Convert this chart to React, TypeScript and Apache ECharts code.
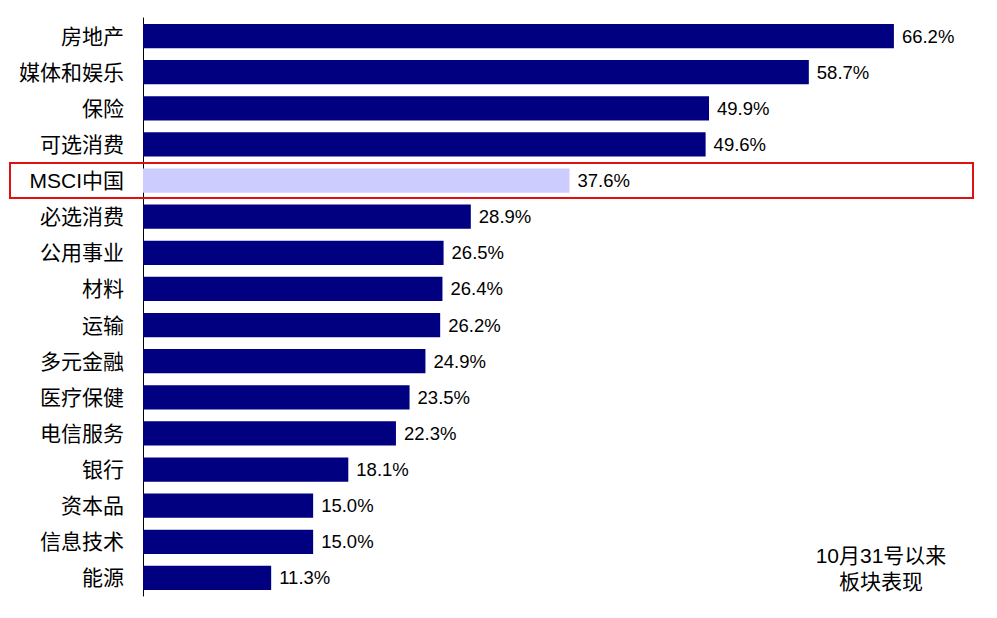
import React, { useEffect, useRef } from "react";
import * as echarts from "echarts";

const categories = [
  "房地产", "媒体和娱乐", "保险", "可选消费", "MSCI中国", "必选消费", "公用事业", "材料",
  "运输", "多元金融", "医疗保健", "电信服务", "银行", "资本品", "信息技术", "能源",
];
const values = [66.2, 58.7, 49.9, 49.6, 37.6, 28.9, 26.5, 26.4, 26.2, 24.9, 23.5, 22.3, 18.1, 15.0, 15.0, 11.3];
const highlight = "MSCI中国";
const noteLines = ["10月31号以来", "板块表现"];

const FONT = "Liberation Sans, Noto Sans CJK SC, sans-serif";

export default function App() {
  const ref = useRef<HTMLDivElement>(null);
  useEffect(() => {
    if (!ref.current) return;
    const chart = echarts.init(ref.current, null, { renderer: "svg" });
    const cats = categories.slice().reverse();
    const vals = values.slice().reverse();
    chart.setOption({
      animation: false,
      grid: { left: 143, right: 60, top: 18, bottom: 22, containLabel: false },
      xAxis: {
        type: "value",
        min: 0,
        max: 70,
        show: false,
      },
      yAxis: {
        type: "category",
        data: cats,
        axisLine: { show: true, lineStyle: { color: "#000", width: 1 } },
        axisTick: { show: false },
        axisLabel: {
          margin: 19,
          color: "#000",
          fontSize: 21,
          fontFamily: FONT,
        },
      },
      series: [
        {
          type: "bar",
          data: vals.map((v, i) => ({
            value: v,
            itemStyle: { color: cats[i] === highlight ? "#ccccff" : "#000080" },
          })),
          barWidth: "67%",
          label: {
            show: true,
            position: "right",
            distance: 8,
            color: "#000",
            fontSize: 18.5,
            fontFamily: "Liberation Sans, Arial, sans-serif",
            formatter: (p: any) => p.value.toFixed(1) + "%",
          },
        },
      ],
      graphic: [
        {
          type: "rect",
          shape: { x: 10, y: 163, width: 963, height: 35 },
          style: { fill: "none", stroke: "#e01010", lineWidth: 2 },
          z: 100,
        },
        {
          type: "text",
          x: 881,
          y: 555,
          style: {
            text: noteLines[0],
            fill: "#000",
            fontSize: 21,
            fontFamily: FONT,
            textAlign: "center",
            textVerticalAlign: "middle",
          },
        },
        {
          type: "text",
          x: 881,
          y: 581,
          style: {
            text: noteLines[1],
            fill: "#000",
            fontSize: 21,
            fontFamily: FONT,
            textAlign: "center",
            textVerticalAlign: "middle",
          },
        },
      ],
    });
    return () => chart.dispose();
  }, []);
  return (
    <div
      ref={ref}
      style={{ position: "absolute", left: 0, top: 0, width: 997, height: 618, background: "#fff" }}
    />
  );
}
